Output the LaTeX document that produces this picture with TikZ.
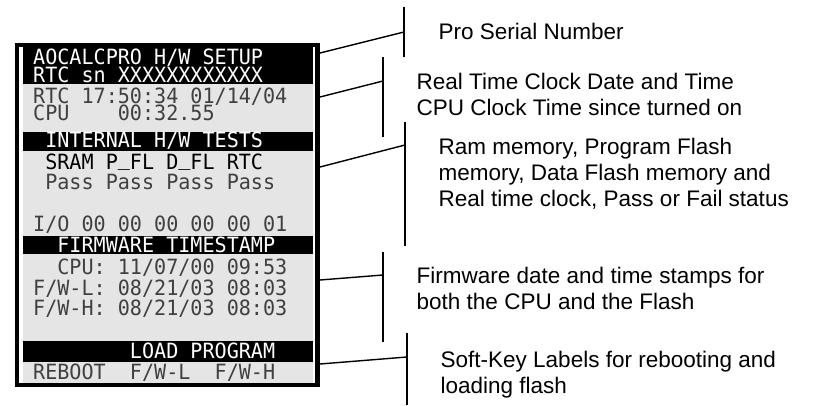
\documentclass[tikz,border=0pt]{standalone}
\usepackage{fontspec}
\setmainfont{Liberation Sans}
\newfontfamily\lcdfont[FakeStretch=0.957]{DejaVu Sans Mono}
\newcommand\lcdus{\raisebox{0.2em}{\_}}
\definecolor{lcdgray}{gray}{0.9}
\definecolor{lcdtext}{gray}{0.25}

\begin{document}
\begin{tikzpicture}[x=1pt,y=1pt,
  lcd/.style={font=\lcdfont\fontsize{21}{21}\selectfont\frenchspacing, anchor=base west, text=lcdtext},
  lcdbar/.style={lcd, text=white},
  lcdhead/.style={lcd, text=black},
  note/.style={font=\fontsize{22.5}{25.8}\selectfont, anchor=base west, align=left},
  leader/.style={black, line width=1.4}]
\tikzstyle{every node}+=[inner sep=0pt]
\useasboundingbox (0,0) rectangle (818,-406);
% screen background and inverted bars
\fill [lcdgray] (23,-47) rectangle (313,-383);
\fill [black] (23,-47) rectangle (313,-84);
\fill [black] (23,-132) rectangle (313,-151);
\fill [black] (23,-236) rectangle (313,-254);
\fill [black] (23,-341) rectangle (313,-362);
\draw [black, line width=4.5] (17,-45) rectangle (317.5,-385);
% screen lines
\node [lcdbar] (title) at (33,-65) {AOCALCPRO H/W SETUP};
\node [lcdbar] (serial) at (33,-82.5) {RTC sn XXXXXXXXXXXX};
\node [lcd] (rtc) at (33,-103.5) {RTC 17:50:34 01/14/04};
\node [lcd] (cpu) at (33,-120.5) {CPU~~~~00:32.55};
\node [lcdbar] (hwtests) at (33,-147.5) {~INTERNAL H/W TESTS};
\node [lcdhead] (testhdr) at (33,-169.5) {~SRAM P\lcdus FL D\lcdus FL RTC};
\node [lcd] (testres) at (33,-189.5) {~Pass Pass Pass Pass};
\node [lcd] (io) at (33,-231.5) {I/O 00 00 00 00 00 01};
\node [lcdbar] (fwhdr) at (33,-252) {~~FIRMWARE TIMESTAMP};
\node [lcd] (fwcpu) at (33,-274.5) {~~CPU: 11/07/00 09:53};
\node [lcd] (fwlow) at (33,-295.5) {F/W-L: 08/21/03 08:03};
\node [lcd] (fwhigh) at (33,-315.5) {F/W-H: 08/21/03 08:03};
\node [lcdbar] (loadkey) at (33,-358.5) {~~~~~~~~LOAD PROGRAM};
\node [lcd] (softkeys) at (33,-379) {REBOOT~~F/W-L~~F/W-H};
% notes (base is the last line)
\node [note] (nserial) at (438.5,-40) {Pro Serial Number};
\node [note] (nclock) at (416.5,-115.5) {Real Time Clock Date and Time\\CPU Clock Time since turned on};
\node [note] (ntests) at (438.5,-206) {Ram memory, Program Flash\\memory, Data Flash memory and\\Real time clock, Pass or Fail status};
\node [note] (nfirm) at (416.5,-309) {Firmware date and time stamps for\\both the CPU and the Flash};
\node [note] (nkeys) at (440.5,-393) {Soft-Key Labels for rebooting and\\loading flash};
% brackets
\coordinate (k1top) at (404,-7);
\coordinate (k1bot) at (404,-57);
\coordinate (k1) at (404,-32);
\coordinate (k2top) at (383,-57);
\coordinate (k2bot) at (383,-137);
\coordinate (k2) at (383,-81);
\coordinate (k3top) at (405,-122);
\coordinate (k3bot) at (405,-246);
\coordinate (k3) at (405,-145);
\coordinate (k4top) at (383,-252);
\coordinate (k4bot) at (383,-342);
\coordinate (k4) at (383,-275);
\coordinate (k5top) at (407,-333);
\coordinate (k5bot) at (407,-405);
\coordinate (k5) at (407,-357);
\draw [leader] (k1top) -- (k1bot);
\draw [leader] (k2top) -- (k2bot);
\draw [leader] (k3top) -- (k3bot);
\draw [leader] (k4top) -- (k4bot);
\draw [leader] (k5top) -- (k5bot);
% leaders from the screen edge
\coordinate (s1) at (320,-53);
\coordinate (s2) at (320,-97);
\coordinate (s3) at (320,-167);
\coordinate (s4) at (320,-280);
\coordinate (s5) at (320,-364);
\draw [leader] (s1) -- (k1);
\draw [leader] (s2) -- (k2);
\draw [leader] (s3) -- (k3);
\draw [leader] (s4) -- (k4);
\draw [leader] (s5) -- (k5);
\end{tikzpicture}
\end{document}
